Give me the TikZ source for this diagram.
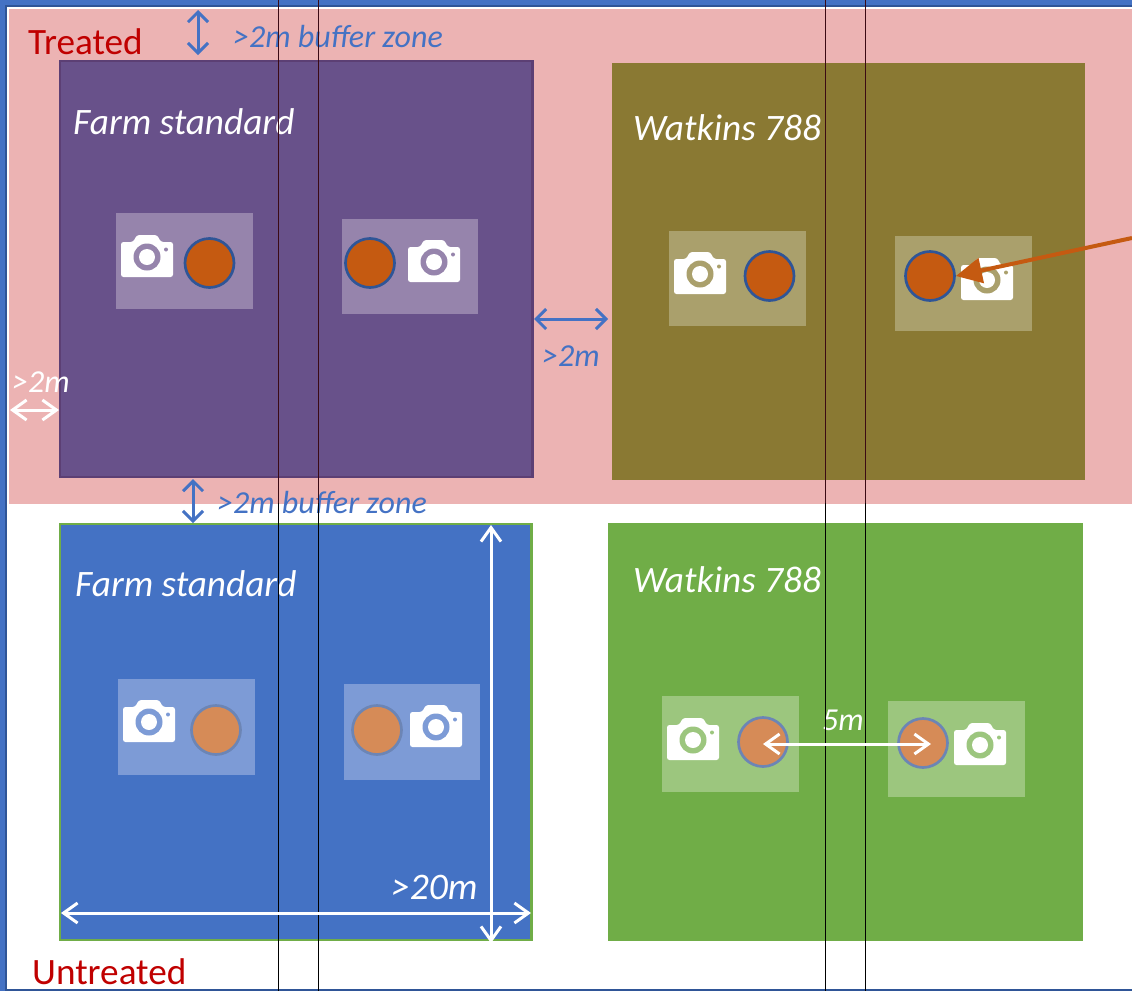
\documentclass[tikz,border=0pt]{standalone}
\usepackage{fontspec}
\setmainfont{Carlito}
\usetikzlibrary{arrows.meta}
\definecolor{frameblue}{HTML}{4472C4}
\definecolor{framedark}{HTML}{2F5597}
\definecolor{pinkzone}{HTML}{ECB3B3}
\definecolor{purplebox}{HTML}{68518A}
\definecolor{purpleedge}{HTML}{5C3F74}
\definecolor{olivebox}{HTML}{8A7933}
\definecolor{greenbox}{HTML}{70AD47}
\definecolor{purplepanel}{HTML}{9684AC}
\definecolor{olivepanel}{HTML}{AAA06C}
\definecolor{bluepanel}{HTML}{7D9BD6}
\definecolor{greenpanel}{HTML}{9CC67E}
\definecolor{orangedot}{HTML}{C55A11}
\definecolor{lightdot}{HTML}{D68B57}
\definecolor{lightedge}{HTML}{6C85B5}
\definecolor{redlabel}{HTML}{C00000}
\definecolor{linedark}{HTML}{3B0A14}
\tikzset{
  x=1pt,y=-1pt,
  plotbox/.style={line width=2.6pt},
  panel/.style={fill=#1,draw=none},
  darkdot/.style={circle,draw=framedark,fill=orangedot,line width=2.7pt,minimum size=49pt,inner sep=0pt},
  palespot/.style={circle,draw=lightedge,fill=lightdot,line width=2.7pt,minimum size=49pt,inner sep=0pt},
  zone/.style={anchor=base west,text=redlabel,font=\fontsize{37.2}{37.2}\selectfont,inner sep=0pt},
  plotname/.style={anchor=base west,text=white,font=\fontsize{37.3}{37.3}\selectfont\itshape,inner sep=0pt},
  bluenote/.style={anchor=base west,text=frameblue,font=\fontsize{32}{32}\selectfont\itshape,inner sep=0pt},
  whitenote/.style={anchor=base west,text=white,font=\fontsize{32}{32}\selectfont\itshape,inner sep=0pt},
  bluedim/.style={draw=frameblue,line width=3pt,{Straight Barb[length=10pt,width=20pt]}-{Straight Barb[length=10pt,width=20pt]}},
  whitedim/.style={draw=white,line width=3pt,{Straight Barb[length=14pt,width=20pt]}-{Straight Barb[length=14pt,width=20pt]}},
  pics/cameraicon/.style={code={
    \fill[white,rounded corners=2.5pt] (-26,20) -- (-26,-15) -- (-14,-15) -- (-10,-22) -- (10,-22) -- (14,-15) -- (26,-15) -- (26,20) -- cycle;
    \fill[#1] (0,0) circle[radius=13.5];
    \fill[white] (0,0) circle[radius=8];
    \fill[#1] (19,-7.5) circle[radius=2];
  }}
}
\begin{document}
\begin{tikzpicture}
\useasboundingbox (0,0) rectangle (1132,991);
% frame and treated zone
\fill[frameblue] (0,0) rectangle (1132,991);
\fill[framedark] (5,5) rectangle (1132,991);
\fill[white] (7,7) rectangle (1132,989);
\fill[pinkzone] (9,9) rectangle (1132,503.5);
% plots
\draw[plotbox,fill=purplebox,draw=purpleedge] (60,61) rectangle (532.5,477);
\fill[olivebox] (612,63) rectangle (1085,480);
\draw[plotbox,fill=frameblue,draw=greenbox] (60,524) rectangle (531.5,940);
\fill[greenbox] (608,523) rectangle (1083,941);
% panels
\fill[panel=purplepanel] (116,213) rectangle (253,309);
\fill[panel=purplepanel] (342,219) rectangle (478,314);
\fill[panel=olivepanel] (669,231) rectangle (806,326);
\fill[panel=olivepanel] (895,236) rectangle (1032,331);
\fill[panel=bluepanel] (118,679) rectangle (255,775);
\fill[panel=bluepanel] (344,684) rectangle (480,780);
\fill[panel=greenpanel] (662,696) rectangle (799,792);
\fill[panel=greenpanel] (888,701) rectangle (1025,797);
% cameras
\pic at (147,257) {cameraicon=purplepanel};
\pic at (434,262) {cameraicon=purplepanel};
\pic at (700,274) {cameraicon=olivepanel};
\pic at (987,280) {cameraicon=olivepanel};
\pic at (149,722) {cameraicon=bluepanel};
\pic at (436,727) {cameraicon=bluepanel};
\pic at (693,740) {cameraicon=greenpanel};
\pic at (980,745) {cameraicon=greenpanel};
% spots
\node[darkdot] (s1) at (209.5,263) {};
\node[darkdot] (s2) at (370,263) {};
\node[darkdot] (s3) at (769.5,276) {};
\node[darkdot] (s4) at (930,276) {};
\node[palespot] (s5) at (216,730) {};
\node[palespot] (s6) at (377,730) {};
\node[palespot] (s7) at (763,742) {};
\node[palespot] (s8) at (923,743) {};
% labels
\node[zone] (treated) at (28,54) {Treated};
\node[zone] (untreated) at (32,984) {Untreated};
\node[plotname] (fs1) at (73,134) {Farm standard};
\node[plotname] (wk1) at (633,140) {Watkins 788};
\node[plotname] (fs2) at (75,596) {Farm standard};
\node[plotname] (wk2) at (633,592) {Watkins 788};
\node[bluenote] (buf1) at (233,47) {>2m buffer zone};
\node[bluenote] (buf2) at (217,513) {>2m buffer zone};
\node[bluenote] (gap) at (542,366) {>2m};
\node[whitenote] (edge) at (12,392) {>2m};
\node[whitenote] (five) at (822,730) {5m};
\node[anchor=base west,text=white,font=\fontsize{37.5}{37.5}\selectfont\itshape,inner sep=0pt] (twenty) at (391,899) {>20m};
% thin vertical lines
\foreach \n/\x in {a/278.5,b/318.5,c/825.5,d/865.5}{
  \coordinate (\n top) at (\x,0);
  \coordinate (\n mid) at (\x,503);
  \coordinate (\n bot) at (\x,991);
  \draw[linedark,line width=1.5pt] (\n top) -- (\n mid);
  \draw[black,line width=1.5pt] (\n mid) -- (\n bot);
}
% dimension arrows
\coordinate (b1a) at (198,10); \coordinate (b1b) at (198,55);
\coordinate (b2a) at (193,479); \coordinate (b2b) at (193,523);
\coordinate (b3a) at (534,319); \coordinate (b3b) at (608,319);
\coordinate (w1a) at (10,410); \coordinate (w1b) at (59,410);
\coordinate (wxa) at (61,913); \coordinate (wxb) at (531,913);
\coordinate (wya) at (491,525); \coordinate (wyb) at (491,943);
\coordinate (orangeend) at (1132,238);
\draw[bluedim] (b1a) -- (b1b);
\draw[bluedim] (b2a) -- (b2b);
\draw[bluedim] (b3a) -- (b3b);
\draw[whitedim] (w1a) -- (w1b);
\draw[whitedim] ([yshift=-2pt]s7.center) -- ([xshift=8pt,yshift=-1pt]s8.center);
\draw[whitedim] (wxa) -- (wxb);
\draw[whitedim] (wya) -- (wyb);
\draw[draw=orangedot,line width=4pt,-{Triangle[length=26pt,width=25pt]}] (orangeend) -- (s4.east);
\end{tikzpicture}
\end{document}
